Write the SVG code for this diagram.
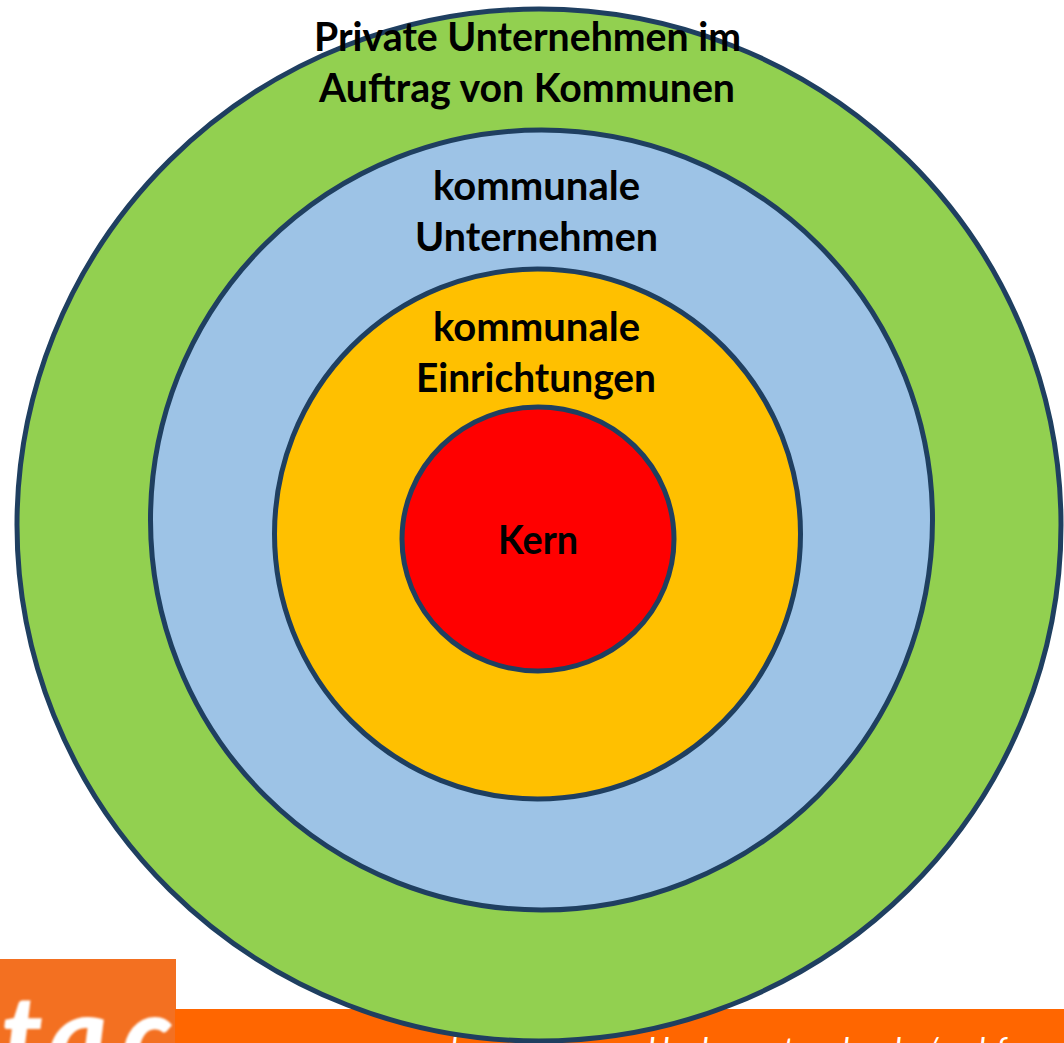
<svg xmlns="http://www.w3.org/2000/svg" width="1064" height="1043" viewBox="0 0 1064 1043">
<defs>
<clipPath id="logo-clip"><rect x="0" y="959" width="176" height="84"/></clipPath>
<filter id="soft" x="-5%" y="-5%" width="110%" height="110%"><feGaussianBlur stdDeviation="1"/></filter>
</defs>
<style>
.ring{stroke:#1f3f60;stroke-width:5}
.t{font-family:"Lato","Liberation Sans",sans-serif;font-weight:700;font-size:39.4px;fill:#000;text-anchor:middle}
.f{font-family:"Lato","Liberation Sans",sans-serif;font-style:italic;fill:#fff;font-size:32px}
.l{font-family:"Lato","Liberation Sans",sans-serif;font-style:italic;font-weight:900;font-size:112px;fill:#fff}
</style>
<rect width="1064" height="1043" fill="#fff"/>
<g id="logo">
<rect x="0" y="959" width="176" height="84" fill="#f37021"/>
<g clip-path="url(#logo-clip)"><text class="l" x="-46 1 48 122" y="1076" filter="url(#soft)">ttac</text></g>
</g>
<g id="footer">
<rect x="175" y="1009" width="889" height="34" fill="#f60"/>
<text class="f" x="450 647 701 783 842 894 925 978 996" y="1061">lHhthl/lf</text>
</g>
<g id="ring-private"><ellipse class="ring" cx="539" cy="525" rx="522" ry="516" fill="#92d050"/><text class="t" x="527.5" y="51" textLength="427" lengthAdjust="spacingAndGlyphs">Private Unternehmen im</text><text class="t" x="527" y="102" textLength="416" lengthAdjust="spacingAndGlyphs">Auftrag von Kommunen</text></g>
<g id="ring-unternehmen"><ellipse class="ring" cx="541.5" cy="520" rx="391" ry="390" fill="#9dc3e6"/><text class="t" x="536.5" y="200" textLength="207" lengthAdjust="spacingAndGlyphs">kommunale</text><text class="t" x="536.5" y="251" textLength="243" lengthAdjust="spacingAndGlyphs">Unternehmen</text></g>
<g id="ring-einrichtungen"><ellipse class="ring" cx="537.5" cy="534" rx="263" ry="265" fill="#ffc000"/><text class="t" x="536.5" y="341" textLength="207" lengthAdjust="spacingAndGlyphs">kommunale</text><text class="t" x="536" y="392" textLength="240" lengthAdjust="spacingAndGlyphs">Einrichtungen</text></g>
<g id="ring-kern"><ellipse class="ring" cx="538" cy="539" rx="136" ry="132" fill="#f00"/><text class="t" x="538" y="554" textLength="80" lengthAdjust="spacingAndGlyphs">Kern</text></g>
<g id="connectors"/>
</svg>
